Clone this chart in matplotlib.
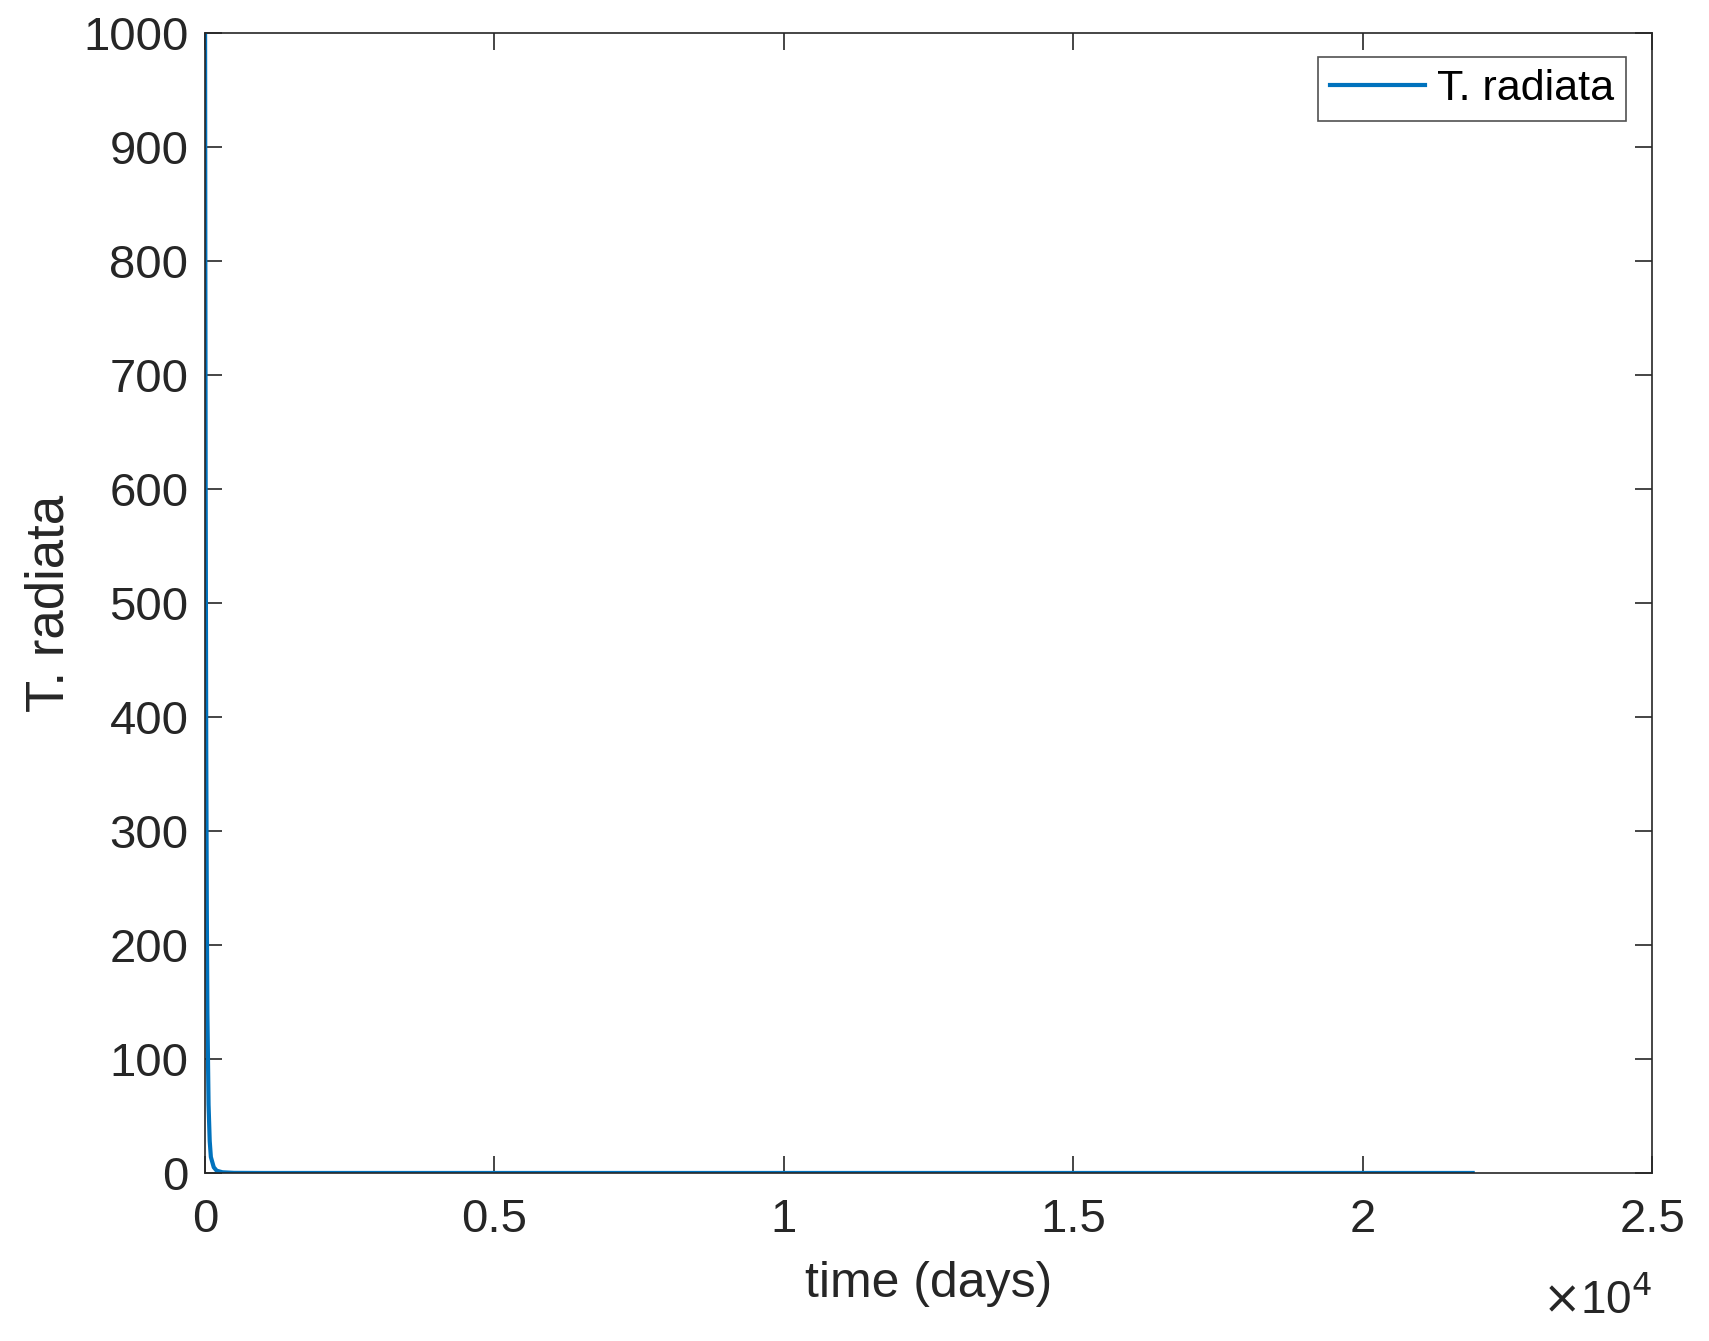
import matplotlib
matplotlib.use("Agg")
import matplotlib.pyplot as plt
from matplotlib.ticker import FuncFormatter

# population of T. radiata over time (days)
time_days = [0, 5, 10, 20, 30, 40, 60, 80, 100, 150, 200, 300, 500, 1000, 21900]
t_radiata = [1000, 780, 600, 370, 230, 140, 60, 28, 14, 5, 2, 0.6, 0.1, 0.0, 0.0]

x_ticks = [0, 5000, 10000, 15000, 20000, 25000]
y_ticks = [0, 100, 200, 300, 400, 500, 600, 700, 800, 900, 1000]

plt.rcParams["font.family"] = ["Liberation Sans", "DejaVu Sans"]
dark = "#262626"

fig = plt.figure(figsize=(17.09, 13.41), dpi=100)
ax = fig.add_axes([0.12, 0.1253, 0.8467, 0.8501])

ax.plot(time_days, t_radiata, color="#0072BD", linewidth=3.0, label="T. radiata")

ax.set_xlim(0, 25000)
ax.set_ylim(0, 1000)
ax.set_xticks(x_ticks)
ax.set_yticks(y_ticks)
ax.xaxis.set_major_formatter(FuncFormatter(lambda v, p: f"{v / 1e4:g}"))

ax.tick_params(direction="in", length=12, width=1.2, colors=dark,
               labelsize=34, top=True, right=True)
ax.tick_params(axis="x", pad=18)
ax.tick_params(axis="y", pad=12)
for s in ax.spines.values():
    s.set_color(dark)
    s.set_linewidth(1.2)

ax.set_xlabel("time (days)", fontsize=36, color=dark, labelpad=14)
ax.set_ylabel("T. radiata", fontsize=38, color=dark, labelpad=6)
ax.text(1.0, -0.093, r"$\times$10$^{4}$", transform=ax.transAxes,
        ha="right", va="top", fontsize=33, color=dark)

leg = ax.legend(loc="upper right", fontsize=31, frameon=True, fancybox=False,
                borderpad=0.28, handlelength=2.2, handletextpad=0.28,
                borderaxespad=0, bbox_to_anchor=(0.982, 0.979))
leg.get_frame().set_edgecolor(dark)
leg.get_frame().set_linewidth(1.2)

fig.savefig("out.png", dpi=100)
